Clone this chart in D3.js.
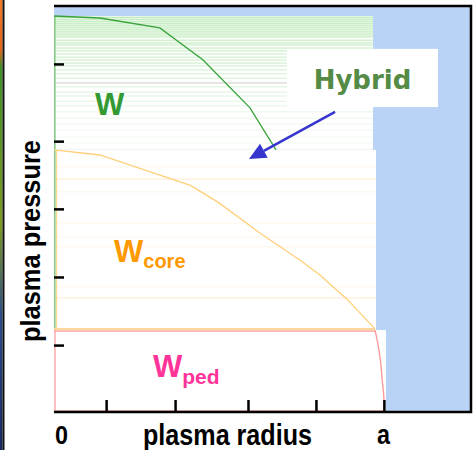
<!DOCTYPE html>
<html>
<head>
<meta charset="utf-8">
<script src="https://cdn.jsdelivr.net/npm/d3@7/dist/d3.min.js"></script>
<style>
  html, body { margin: 0; padding: 0; background: #ffffff; }
  svg { display: block; }
</style>
</head>
<body>
<svg id="chart" width="475" height="450"></svg>
<script>
// Radius normalised to the plasma edge a = 1, pressure normalised to the hybrid core peak.
const radiusTicks = [0.158, 0.367, 0.588, 0.794, 1.0];
const pressureTicks = [0.879, 0.684, 0.513, 0.341, 0.169];
const radiusTickLabels = ["0", "a"];

// Hybrid scenario total pressure profile (W)
const hybridRadius   = [0, 0.139, 0.321, 0.452, 0.594, 0.673];
const hybridPressure = [1.0, 0.995, 0.970, 0.889, 0.768, 0.662];

// Core pressure profile above the pedestal (W_core)
const coreRadius   = [0, 0.139, 0.321, 0.412, 0.497, 0.624, 0.745, 0.806, 0.888, 0.973];
const corePressure = [0.662, 0.649, 0.598, 0.573, 0.530, 0.452, 0.384, 0.346, 0.285, 0.210];

// Pedestal edge drop (W_ped)
const pedRadius   = [0.973, 0.980, 0.988, 0.995, 1.0, 1.0];
const pedPressure = [0.207, 0.180, 0.139, 0.080, 0.030, 0.0];
const pedTop = 0.207;
const pedFloor = 0.005;

// Extent of each stored-energy band: [right radius, lower pressure, upper pressure]
const bandHybrid = [0.967, 0.662, 1.0];
const bandCore   = [0.976, 0.207, 0.662];
const bandPed    = [1.006, 0.0, 0.207];

// Shading levels inside the hybrid band and faint levels inside the core band
const hybridHatch = [0.997, 0.992, 0.987, 0.982, 0.977, 0.972, 0.967, 0.962, 0.957, 0.952,
  0.947, 0.939, 0.932, 0.927, 0.919, 0.912, 0.904, 0.896, 0.889, 0.881, 0.874, 0.864,
  0.854, 0.843, 0.831, 0.821, 0.808, 0.798, 0.785, 0.773, 0.758, 0.742, 0.727, 0.712,
  0.694, 0.679, 0.664];
const coreHatch = [0.619, 0.588, 0.556, 0.477, 0.442, 0.417, 0.316, 0.288];

// Annotation box and arrow (data units)
const hybridBox = [0.706, 1.164, 0.770, 0.917];
const arrowFrom = [0.852, 0.758];
const arrowTo   = [0.591, 0.639];

const xMax = 1.264, yMax = 1.0253;

const svg = d3.select("#chart");
const frame = { left: 54, right: 471, top: 6, bottom: 412 };

const x = d3.scaleLinear().domain([0, xMax]).range([frame.left, frame.right]);
const y = d3.scaleLinear().domain([0, yMax]).range([frame.bottom, frame.top]);

// Colour strip at the far left edge
const defs = svg.append("defs");
const grad = defs.append("linearGradient").attr("id", "edgeStrip")
  .attr("x1", 0).attr("y1", 0).attr("x2", 0).attr("y2", 1);
[[0, "#f07a22"], [0.11, "#e2641a"], [0.15, "#3f8f2a"], [0.5, "#7d9a22"],
 [0.7, "#2c4c86"], [1, "#18285e"]].forEach(([o, c]) =>
  grad.append("stop").attr("offset", o).attr("stop-color", c));
svg.append("rect").attr("x", 0).attr("y", 0).attr("width", 2.5).attr("height", 450)
  .attr("fill", "url(#edgeStrip)");
svg.append("rect").attr("x", 2.5).attr("y", 0).attr("width", 2).attr("height", 450)
  .attr("fill", "#111");

// Plot background (vacuum region beyond the plasma)
svg.append("rect")
  .attr("x", x(0)).attr("y", y(yMax))
  .attr("width", x(xMax) - x(0)).attr("height", y(0) - y(yMax))
  .attr("fill", "#b9d3f6");

// White bands
function band(b) {
  svg.append("rect")
    .attr("x", x(0)).attr("y", y(b[2]))
    .attr("width", x(b[0]) - x(0)).attr("height", y(b[1]) - y(b[2]))
    .attr("fill", "#ffffff");
}
band(bandHybrid);
band(bandCore);
band(bandPed);

// Hatching of the hybrid band, fading towards the core
svg.append("g").selectAll("line").data(hybridHatch).join("line")
  .attr("x1", x(0)).attr("x2", x(bandHybrid[0]))
  .attr("y1", d => y(d)).attr("y2", d => y(d))
  .attr("stroke", "#9fe29a").attr("stroke-width", 1)
  .attr("opacity", d => 0.1 + 0.8 * Math.pow((d - bandHybrid[1]) / (bandHybrid[2] - bandHybrid[1]), 1.3));

// One greyish level inside the hybrid band
svg.append("line")
  .attr("x1", x(0)).attr("x2", x(bandHybrid[0]))
  .attr("y1", y(0.831)).attr("y2", y(0.831))
  .attr("stroke", "#ddd3d6").attr("stroke-width", 1);

svg.append("g").selectAll("line").data(coreHatch).join("line")
  .attr("x1", x(0)).attr("x2", x(bandCore[0]))
  .attr("y1", d => y(d)).attr("y2", d => y(d))
  .attr("stroke", "#ffe2b8").attr("stroke-width", 1)
  .attr("opacity", (d, i) => (i === 1 || i === 7) ? 0.7 : 0.3);

// Left edges of the bands
svg.append("line").attr("x1", x(0) + 0.8).attr("x2", x(0) + 0.8)
  .attr("y1", y(bandHybrid[2])).attr("y2", y(pedTop))
  .attr("stroke", "#86c986").attr("stroke-width", 1.6);
svg.append("line").attr("x1", x(0) + 2.5).attr("x2", x(0) + 2.5)
  .attr("y1", y(bandCore[2])).attr("y2", y(pedTop))
  .attr("stroke", "#ffd690").attr("stroke-width", 1.2);
svg.append("line").attr("x1", x(0) + 1).attr("x2", x(0) + 1)
  .attr("y1", y(pedTop)).attr("y2", y(0))
  .attr("stroke", "#ffa5a5").attr("stroke-width", 1.4);

const line = d3.line().x(d => x(d[0])).y(d => y(d[1]));

// Core base (orange) and pedestal top (pink)
svg.append("line").attr("x1", x(0)).attr("x2", x(coreRadius[coreRadius.length - 1]))
  .attr("y1", y(corePressure[corePressure.length - 1]) + 0.5)
  .attr("y2", y(corePressure[corePressure.length - 1]) + 0.5)
  .attr("stroke", "#ffd79c").attr("stroke-width", 2.5);
svg.append("line").attr("x1", x(0)).attr("x2", x(pedRadius[0]))
  .attr("y1", y(pedTop) + 1).attr("y2", y(pedTop) + 1)
  .attr("stroke", "#ff9f9f").attr("stroke-width", 1.2);
svg.append("line").attr("x1", x(0)).attr("x2", x(1))
  .attr("y1", y(pedFloor) + 1).attr("y2", y(pedFloor) + 1)
  .attr("stroke", "#ffaaaa").attr("stroke-width", 1.5);

// Profiles
svg.append("path").datum(d3.zip(coreRadius, corePressure))
  .attr("d", line).attr("fill", "none").attr("stroke", "#ffcf7a").attr("stroke-width", 1.3);
svg.append("path").datum(d3.zip(pedRadius, pedPressure))
  .attr("d", d3.line().x(d => x(d[0])).y(d => y(d[1])).curve(d3.curveMonotoneY))
  .attr("fill", "none").attr("stroke", "#ff9a9a").attr("stroke-width", 1.4);
svg.append("path").datum(d3.zip(hybridRadius, hybridPressure))
  .attr("d", line)
  .attr("fill", "none").attr("stroke", "#3aa23a").attr("stroke-width", 1.3);

// Frame (top, right, bottom)
svg.append("path")
  .attr("d", `M${x(0)},${y(yMax)} H${x(xMax)} V${y(0)} H${x(0)}`)
  .attr("fill", "none").attr("stroke", "#000").attr("stroke-width", 2.5);

// Axes with inward ticks
const xAxis = d3.axisTop(x).tickValues(radiusTicks).tickSize(12).tickFormat("");
svg.append("g").attr("transform", `translate(0,${y(0)})`).call(xAxis)
  .call(g => g.select(".domain").remove())
  .call(g => g.selectAll(".tick line").attr("stroke", "#000").attr("stroke-width", 2.5));

const yAxis = d3.axisRight(y).tickValues(pressureTicks).tickSize(10).tickFormat("");
svg.append("g").attr("transform", `translate(${x(0)},0)`).call(yAxis)
  .call(g => g.select(".domain").remove())
  .call(g => g.selectAll(".tick line").attr("stroke", "#000").attr("stroke-width", 2.5));

// Axis labels
const fontAx = "'Liberation Sans', Arial, Helvetica, sans-serif";
svg.append("text").attr("x", x(0) + 1).attr("y", 444)
  .attr("font-family", fontAx).attr("font-weight", "bold").attr("font-size", 25)
  .attr("textLength", 13).attr("lengthAdjust", "spacingAndGlyphs")
  .text(radiusTickLabels[0]);
svg.append("text").attr("x", x(1) - 7).attr("y", 444)
  .attr("font-family", fontAx).attr("font-weight", "bold").attr("font-size", 27)
  .attr("textLength", 13).attr("lengthAdjust", "spacingAndGlyphs")
  .text(radiusTickLabels[1]);
svg.append("text").attr("x", 143).attr("y", 445)
  .attr("font-family", fontAx).attr("font-weight", "bold").attr("font-size", 29)
  .attr("textLength", 169).attr("lengthAdjust", "spacingAndGlyphs")
  .text("plasma radius");
svg.append("text").attr("transform", "translate(40,342) rotate(-90)")
  .attr("font-family", fontAx).attr("font-weight", "bold").attr("font-size", 27)
  .attr("textLength", 202).attr("lengthAdjust", "spacingAndGlyphs")
  .text("plasma pressure");

// Band labels
function bandLabel(px, py, color, sub, subSize, subDx, subDy) {
  const t = svg.append("text").attr("x", px).attr("y", py)
    .attr("font-family", fontAx).attr("font-weight", "bold").attr("fill", color);
  t.append("tspan").attr("font-size", 31).text("W");
  if (sub) t.append("tspan").attr("font-size", subSize).attr("dx", subDx).attr("dy", subDy).text(sub);
}
bandLabel(95, 115, "#339933", null);
bandLabel(114, 262, "#ff9900", "core", 20, 0, 6);
bandLabel(153, 377, "#ff3399", "ped", 21, 0, 7);

// Hybrid annotation
svg.append("rect")
  .attr("x", x(hybridBox[0])).attr("y", y(hybridBox[3]))
  .attr("width", x(hybridBox[1]) - x(hybridBox[0]))
  .attr("height", y(hybridBox[2]) - y(hybridBox[3]))
  .attr("fill", "#ffffff");
svg.append("text")
  .attr("x", (x(hybridBox[0]) + x(hybridBox[1])) / 2).attr("y", 89)
  .attr("text-anchor", "middle")
  .attr("font-family", "'DejaVu Sans', Verdana, sans-serif").attr("font-weight", "bold")
  .attr("font-size", 26).attr("fill", "#548b45")
  .text("Hybrid");

// Arrow pointing into the hybrid band
const ax0 = x(arrowFrom[0]), ay0 = y(arrowFrom[1]);
const ax1 = x(arrowTo[0]), ay1 = y(arrowTo[1]);
const ang = Math.atan2(ay1 - ay0, ax1 - ax0);
const headLen = 17, headHalf = 8;
const bx = ax1 - headLen * Math.cos(ang), by = ay1 - headLen * Math.sin(ang);
svg.append("line").attr("x1", ax0).attr("y1", ay0).attr("x2", bx).attr("y2", by)
  .attr("stroke", "#3636cf").attr("stroke-width", 2.5);
svg.append("path")
  .attr("d", `M${ax1},${ay1} L${bx + headHalf * Math.sin(ang)},${by - headHalf * Math.cos(ang)} L${bx - headHalf * Math.sin(ang)},${by + headHalf * Math.cos(ang)} Z`)
  .attr("fill", "#3636cf");
</script>
</body>
</html>
